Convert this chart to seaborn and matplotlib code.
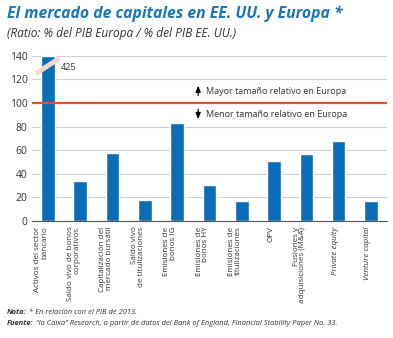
import matplotlib
matplotlib.use("Agg")
import matplotlib.pyplot as plt
import seaborn as sns
import pandas as pd

categories = [
    "Activos del sector\nbancario",
    "Saldo vivo de bonos\ncorporativos",
    "Capitalización del\nmercado bursátil",
    "Saldo vivo\nde titulizaciones",
    "Emisiones de\nbonos IG",
    "Emisiones de\nbonos HY",
    "Emisiones de\ntitulizaciones",
    "OPV",
    "Fusiones y\nadquisiciones (M&A)",
    "Private equity",
    "Venture capital",
]
values = [140, 34, 58, 18, 83, 30.5, 17, 51, 56.5, 68, 17]
true_first_value = 425
yticks = [0, 20, 40, 60, 80, 100, 120, 140]

sns.set_theme(style="white")
plt.rcParams["font.family"] = ["Open Sans", "DejaVu Sans"]

BLUE = "#0a6db8"
ORANGE = "#e8531f"
TXT = "#333333"

fig = plt.figure(figsize=(3.93, 3.38), dpi=100)
ax = fig.add_axes([0.081, 0.346, 0.904, 0.489])

df = pd.DataFrame({"cat": categories, "val": values})
sns.barplot(data=df, x="cat", y="val", color=BLUE, width=0.42, saturation=1, ax=ax)

ax.set_ylim(0, 140)
ax.set_xlim(-0.5, len(categories) - 0.5)
ax.set_yticks(yticks)
ax.set_yticklabels([str(v) for v in yticks], fontsize=7.5, color=TXT)
ax.yaxis.grid(True, color="#d0d0d0", linewidth=0.8)
ax.set_axisbelow(True)
ax.set_xlabel("")
ax.set_ylabel("")
for s in ["top", "right", "left"]:
    ax.spines[s].set_visible(False)
ax.spines["bottom"].set_color("#555555")
ax.spines["bottom"].set_linewidth(0.8)
ax.tick_params(axis="y", length=0, pad=3)

# x tick labels
ax.set_xticks(range(len(categories)))
labels = ax.set_xticklabels(categories, rotation=90, fontsize=5.8, color=TXT,
                            linespacing=0.95, ha="right", va="top", multialignment="right")
for lab in labels:
    if lab.get_text() in ("Private equity", "Venture capital"):
        lab.set_style("italic")
ax.tick_params(axis="x", length=0, pad=4)
# minor ticks at category boundaries
ax.set_xticks([i - 0.5 for i in range(len(categories) + 1)], minor=True)
ax.tick_params(axis="x", which="minor", length=3, color="#555555", width=0.7, direction="out")

# reference line at 100
ax.axhline(100, color=ORANGE, linewidth=1.6, zorder=3)

# break mark on first bar
ax.plot([-0.37, 0.36], [125, 138], color="#f9d8cb", linewidth=3.5, solid_capstyle="butt", zorder=4, clip_on=False)
ax.text(0.38, 130, str(true_first_value), fontsize=6.5, color=TXT, va="center", ha="left")

# annotations
arrow_kw = dict(arrowstyle="-|>,head_width=0.12,head_length=0.3", color="black", lw=0.9)
ax.annotate("", xy=(4.65, 117), xytext=(4.65, 104), arrowprops=arrow_kw)
ax.text(4.9, 110, "Mayor tamaño relativo en Europa", fontsize=6.5, color=TXT, va="center")
ax.annotate("", xy=(4.65, 84), xytext=(4.65, 97), arrowprops=arrow_kw)
ax.text(4.9, 90, "Menor tamaño relativo en Europa", fontsize=6.5, color=TXT, va="center")

# titles
fig.text(0.018, 0.958, "El mercado de capitales en EE. UU. y Europa *", fontsize=11.3,
         fontweight="bold", style="italic", color="#1a75bb", va="center", ha="left")
fig.text(0.018, 0.9, "(Ratio: % del PIB Europa / % del PIB EE. UU.)", fontsize=8.6,
         style="italic", color=TXT, va="center", ha="left")

# footer with mixed styles
def rich(x, y, parts, size):
    fig.canvas.draw()
    r = fig.canvas.get_renderer()
    cx = x
    for txt, w in parts:
        t = fig.text(cx, y, txt, fontsize=size, style="italic", fontweight=w, color=TXT, va="center", ha="left")
        bb = t.get_window_extent(renderer=r)
        cx += bb.width / fig.bbox.width

rich(0.018, 0.074, [("Nota:", "bold"), (" * En relación con el PIB de 2013.", "normal")], 5.4)
rich(0.018, 0.044, [("Fuente:", "bold"), (" \u201cla Caixa\u201d Research, a partir de datos del Bank of England, Financial Stability Paper No. 33.", "normal")], 5.4)

fig.savefig("out.png", dpi=100)
